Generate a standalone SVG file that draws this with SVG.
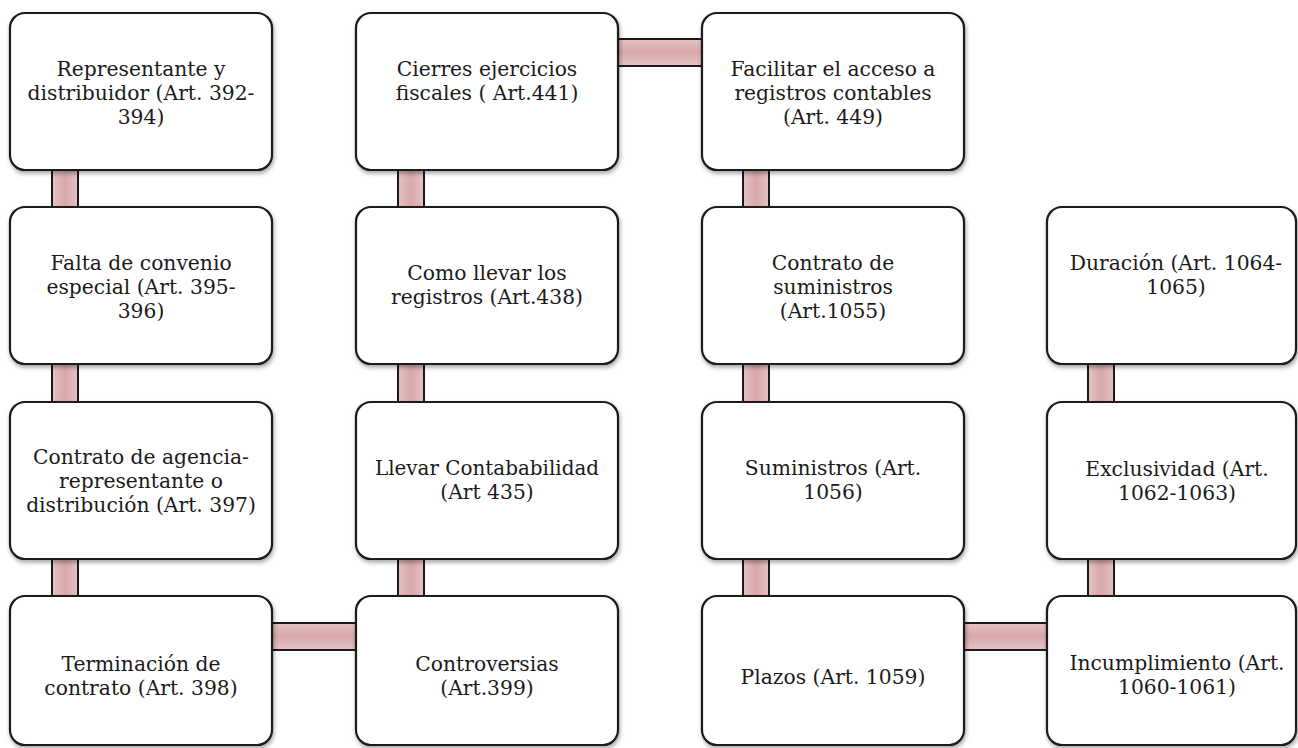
<svg xmlns="http://www.w3.org/2000/svg" width="1298" height="748" viewBox="0 0 1298 748">
<style>
.box{fill:#ffffff;stroke:#1a1a1a;stroke-width:2.2;filter:url(#sh)}
.vb{fill:url(#gv);stroke:#1a1a1a;stroke-width:2}
.hb{fill:url(#gh);stroke:#1a1a1a;stroke-width:2}
text{font-family:"DejaVu Serif","Liberation Serif",serif;font-size:20.3px;fill:#1a1a1a;text-anchor:middle}
</style>
<defs>
<filter id="sh" x="-10%" y="-10%" width="120%" height="125%">
<feDropShadow dx="1" dy="2.5" stdDeviation="2" flood-color="#000" flood-opacity="0.35"/>
</filter>
<linearGradient id="gv" x1="0" y1="0" x2="1" y2="0">
<stop offset="0" stop-color="#e6c3c4"/>
<stop offset="0.5" stop-color="#d8a8aa"/>
<stop offset="1" stop-color="#e6c3c4"/>
</linearGradient>
<linearGradient id="gh" x1="0" y1="0" x2="0" y2="1">
<stop offset="0" stop-color="#e6c3c4"/>
<stop offset="0.5" stop-color="#d8a8aa"/>
<stop offset="1" stop-color="#e6c3c4"/>
</linearGradient>
</defs>
<g id="connectors">
<rect class="vb" x="52" y="160" width="26" height="57"/>
<rect class="vb" x="52" y="355" width="26" height="57"/>
<rect class="vb" x="52" y="550" width="26" height="56"/>
<rect class="vb" x="398" y="160" width="26" height="57"/>
<rect class="vb" x="398" y="355" width="26" height="57"/>
<rect class="vb" x="398" y="550" width="26" height="56"/>
<rect class="vb" x="743" y="160" width="26" height="57"/>
<rect class="vb" x="743" y="355" width="26" height="57"/>
<rect class="vb" x="743" y="550" width="26" height="56"/>
<rect class="vb" x="1088" y="355" width="26" height="57"/>
<rect class="vb" x="1088" y="550" width="26" height="56"/>
<rect class="hb" x="262" y="623" width="104" height="27"/>
<rect class="hb" x="608" y="39" width="104" height="27"/>
<rect class="hb" x="954" y="623" width="103" height="27"/>
</g>
<g id="n1"><rect class="box" x="10" y="13" width="262" height="157" rx="15"/>
<text x="141" y="76">Representante y</text><text x="141" y="100">distribuidor (Art. 392-</text><text x="141" y="124">394)</text></g>
<g id="n2"><rect class="box" x="10" y="207" width="262" height="157" rx="15"/>
<text x="141" y="270">Falta de convenio</text><text x="141" y="294">especial (Art. 395-</text><text x="141" y="318">396)</text></g>
<g id="n3"><rect class="box" x="10" y="402" width="262" height="157" rx="15"/>
<text x="141" y="464">Contrato de agencia-</text><text x="141" y="488">representante o</text><text x="141" y="512">distribución (Art. 397)</text></g>
<g id="n4"><rect class="box" x="10" y="596" width="262" height="149" rx="15"/>
<text x="141" y="671">Terminación de</text><text x="141" y="695">contrato (Art. 398)</text></g>
<g id="n5"><rect class="box" x="356" y="13" width="262" height="157" rx="15"/>
<text x="487" y="76">Cierres ejercicios</text><text x="487" y="100">fiscales ( Art.441)</text></g>
<g id="n6"><rect class="box" x="356" y="207" width="262" height="157" rx="15"/>
<text x="487" y="280">Como llevar los</text><text x="487" y="304">registros (Art.438)</text></g>
<g id="n7"><rect class="box" x="356" y="402" width="262" height="157" rx="15"/>
<text x="487" y="475" textLength="224" lengthAdjust="spacingAndGlyphs">Llevar Contababilidad</text><text x="487" y="499">(Art 435)</text></g>
<g id="n8"><rect class="box" x="356" y="596" width="262" height="149" rx="15"/>
<text x="487" y="671">Controversias</text><text x="487" y="695">(Art.399)</text></g>
<g id="n9"><rect class="box" x="702" y="13" width="262" height="157" rx="15"/>
<text x="833" y="76">Facilitar el acceso a</text><text x="833" y="100">registros contables</text><text x="833" y="124">(Art. 449)</text></g>
<g id="n10"><rect class="box" x="702" y="207" width="262" height="157" rx="15"/>
<text x="833" y="270">Contrato de</text><text x="833" y="294">suministros</text><text x="833" y="318">(Art.1055)</text></g>
<g id="n11"><rect class="box" x="702" y="402" width="262" height="157" rx="15"/>
<text x="833" y="475">Suministros (Art.</text><text x="833" y="499">1056)</text></g>
<g id="n12"><rect class="box" x="702" y="596" width="262" height="149" rx="15"/>
<text x="833" y="684">Plazos (Art. 1059)</text></g>
<g id="n13"><rect class="box" x="1047" y="207" width="249" height="157" rx="15"/>
<text x="1176" y="270">Duración (Art. 1064-</text><text x="1176" y="294">1065)</text></g>
<g id="n14"><rect class="box" x="1047" y="402" width="249" height="157" rx="15"/>
<text x="1177" y="476">Exclusividad (Art.</text><text x="1177" y="500">1062-1063)</text></g>
<g id="n15"><rect class="box" x="1047" y="596" width="249" height="149" rx="15"/>
<text x="1177" y="670">Incumplimiento (Art.</text><text x="1177" y="694">1060-1061)</text></g>
</svg>
